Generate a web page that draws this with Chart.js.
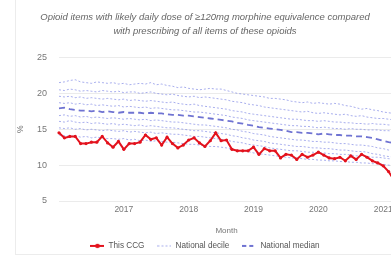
<!DOCTYPE html>
<html>
<head>
<meta charset="utf-8">
<script src="https://cdn.jsdelivr.net/npm/chart.js@4"></script>
<style>
  html, body { margin: 0; padding: 0; background: #fff; overflow: hidden; }
  .card { position: absolute; left: 15px; top: -2px; width: 420px; height: 257px; border: 1px solid #ececec; box-sizing: border-box; }
  #chart { position: absolute; left: 16px; top: 0; }
</style>
</head>
<body>
<div class="card"></div>
<canvas id="chart" width="382" height="260"></canvas>
<script>
// months Jan 2016 - Mar 2021
const months = [
  '2016-01','2016-02','2016-03','2016-04','2016-05','2016-06','2016-07','2016-08','2016-09','2016-10','2016-11','2016-12',
  '2017-01','2017-02','2017-03','2017-04','2017-05','2017-06','2017-07','2017-08','2017-09','2017-10','2017-11','2017-12',
  '2018-01','2018-02','2018-03','2018-04','2018-05','2018-06','2018-07','2018-08','2018-09','2018-10','2018-11','2018-12',
  '2019-01','2019-02','2019-03','2019-04','2019-05','2019-06','2019-07','2019-08','2019-09','2019-10','2019-11','2019-12',
  '2020-01','2020-02','2020-03','2020-04','2020-05','2020-06','2020-07','2020-08','2020-09','2020-10','2020-11','2020-12',
  '2021-01','2021-02','2021-03'
];
const yTicks = [5, 10, 15, 20, 25];

const thisCcg = [
  14.5, 13.8, 14.0, 14.0, 13.0, 13.0, 13.2, 13.2, 14.0, 13.1,
  12.5, 13.3, 12.2, 13.0, 13.0, 13.2, 14.2, 13.6, 13.8, 12.8,
  13.9, 13.0, 12.4, 12.8, 13.5, 13.8, 13.1, 12.6, 13.4, 14.5,
  13.4, 13.5, 12.2, 12.0, 12.0, 12.0, 12.5, 11.5, 12.3, 12.0,
  12.0, 11.0, 11.5, 11.4, 10.8, 11.5, 11.1, 11.4, 11.8, 11.4,
  11.0, 10.9, 11.1, 10.6, 11.3, 10.8, 11.5, 11.1, 10.6, 10.3,
  9.9, 9.1, 7.9
];
const median = [
  17.9, 18.0, 17.8, 17.7, 17.6, 17.6, 17.5, 17.6, 17.4, 17.5,
  17.4, 17.3, 17.4, 17.3, 17.3, 17.3, 17.2, 17.3, 17.2, 17.2,
  17.1, 17.0, 17.0, 16.9, 16.9, 16.8, 16.7, 16.6, 16.5, 16.4,
  16.3, 16.2, 16.1, 15.9, 15.8, 15.6, 15.5, 15.3, 15.2, 15.1,
  15.0, 14.9, 14.8, 14.6, 14.6, 14.5, 14.5, 14.4, 14.3, 14.4,
  14.3, 14.2, 14.2, 14.1, 14.1, 14.0, 14.0, 13.9, 13.8, 13.6,
  13.4, 13.2, 13.1
];
const p90 = [
  21.5, 21.6, 21.8, 21.9, 21.6, 21.5, 21.4, 21.6, 21.5, 21.4,
  21.5, 21.3, 21.4, 21.2, 21.3, 21.4, 21.3, 21.5, 21.2, 21.3,
  21.1, 21.0, 20.8, 20.9, 20.7, 20.6, 20.5, 20.6, 20.7, 20.6,
  20.6, 20.4, 20.2, 20.0, 19.9, 19.8, 19.7, 19.6, 19.5, 19.3,
  19.3, 19.2, 19.1, 18.9, 18.8, 18.7, 18.8, 18.6, 18.7, 18.6,
  18.5, 18.6, 18.5, 18.3, 18.2, 18.0, 17.8, 17.9, 17.7, 17.6,
  17.4, 17.3, 17.2
];
const p80 = [
  20.5, 20.4, 20.6, 20.5, 20.3, 20.4, 20.3, 20.2, 20.4, 20.3,
  20.2, 20.3, 20.1, 20.2, 20.2, 20.0, 20.1, 20.2, 20.0, 19.9,
  19.8, 19.9, 19.7, 19.6, 19.5, 19.6, 19.4, 19.5, 19.4, 19.3,
  19.2, 19.1, 18.9, 18.8, 18.7, 18.5, 18.4, 18.3, 18.1, 18.0,
  17.9, 17.8, 17.7, 17.6, 17.5, 17.4, 17.5, 17.3, 17.2, 17.3,
  17.2, 17.1, 17.0, 17.1, 16.9, 16.8, 16.9, 16.7, 16.6, 16.5,
  16.5, 16.4, 16.3
];
const p70 = [
  19.6, 19.5, 19.6, 19.4, 19.5, 19.3, 19.4, 19.3, 19.2, 19.3,
  19.2, 19.1, 19.2, 19.0, 19.1, 19.0, 18.9, 19.0, 18.9, 18.8,
  18.7, 18.8, 18.6, 18.5, 18.4, 18.5, 18.3, 18.2, 18.1, 18.0,
  17.9, 17.8, 17.6, 17.5, 17.4, 17.2, 17.1, 17.0, 16.9, 16.8,
  16.7, 16.6, 16.5, 16.4, 16.4, 16.3, 16.2, 16.2, 16.1, 16.2,
  16.1, 16.0, 16.0, 15.9, 15.9, 15.8, 15.8, 15.7, 15.8, 15.7,
  15.7, 15.6, 15.6
];
const p60 = [
  18.7, 18.6, 18.7, 18.5, 18.6, 18.4, 18.5, 18.3, 18.4, 18.3,
  18.2, 18.3, 18.1, 18.2, 18.1, 18.0, 18.1, 17.9, 18.0, 17.9,
  17.8, 17.7, 17.7, 17.6, 17.5, 17.4, 17.4, 17.3, 17.2, 17.1,
  17.0, 16.9, 16.7, 16.6, 16.5, 16.3, 16.2, 16.1, 16.0, 15.9,
  15.8, 15.7, 15.6, 15.5, 15.5, 15.4, 15.4, 15.3, 15.2, 15.3,
  15.2, 15.1, 15.1, 15.0, 15.1, 15.0, 15.0, 14.9, 14.9, 14.9,
  14.8, 14.8, 14.7
];
const p40 = [
  16.9, 17.0, 16.8, 16.9, 16.7, 16.8, 16.6, 16.7, 16.6, 16.5,
  16.6, 16.5, 16.4, 16.5, 16.4, 16.3, 16.4, 16.2, 16.3, 16.2,
  16.1, 16.0, 16.0, 15.9, 15.8, 15.7, 15.6, 15.6, 15.5, 15.4,
  15.3, 15.2, 15.0, 14.9, 14.7, 14.6, 14.4, 14.3, 14.2, 14.0,
  13.9, 13.8, 13.7, 13.6, 13.5, 13.5, 13.4, 13.3, 13.3, 13.2,
  13.2, 13.1, 13.0, 13.0, 12.9, 12.8, 12.8, 12.7, 12.6, 12.4,
  12.3, 12.1, 12.0
];
const p30 = [
  16.1, 16.0, 16.2, 16.0, 15.9, 16.0, 15.8, 15.9, 15.8, 15.7,
  15.8, 15.6, 15.7, 15.6, 15.5, 15.6, 15.4, 15.5, 15.4, 15.3,
  15.2, 15.2, 15.1, 15.0, 14.9, 14.8, 14.8, 14.7, 14.6, 14.5,
  14.4, 14.3, 14.1, 14.0, 13.8, 13.7, 13.5, 13.4, 13.3, 13.1,
  13.0, 12.9, 12.8, 12.7, 12.6, 12.6, 12.5, 12.4, 12.4, 12.3,
  12.3, 12.2, 12.1, 12.1, 12.0, 11.9, 11.9, 11.8, 11.6, 11.5,
  11.3, 11.2, 11.1
];
const p20 = [
  15.2, 15.1, 15.2, 15.0, 15.1, 14.9, 15.0, 14.9, 14.8, 14.9,
  14.8, 14.7, 14.8, 14.6, 14.7, 14.6, 14.5, 14.6, 14.4, 14.5,
  14.4, 14.3, 14.3, 14.2, 14.1, 14.0, 14.0, 13.9, 13.8, 13.7,
  13.6, 13.5, 13.3, 13.2, 13.1, 12.9, 12.8, 12.7, 12.6, 12.4,
  12.3, 12.2, 12.1, 12.0, 12.0, 11.9, 11.8, 11.8, 11.7, 11.7,
  11.6, 11.6, 11.5, 11.5, 11.4, 11.3, 11.3, 11.2, 11.1, 11.1,
  11.0, 10.9, 10.8
];
const p10 = [
  14.2, 14.1, 14.0, 14.1, 13.9, 14.0, 13.8, 13.9, 13.8, 13.7,
  13.7, 13.6, 13.7, 13.5, 13.6, 13.4, 13.5, 13.3, 13.4, 13.3,
  13.2, 13.2, 13.1, 13.0, 12.9, 12.9, 12.8, 12.7, 12.6, 12.6,
  12.5, 12.4, 12.2, 12.1, 12.0, 11.9, 11.7, 11.6, 11.5, 11.4,
  11.3, 11.2, 11.1, 11.0, 11.0, 10.9, 10.8, 10.8, 10.7, 10.7,
  10.6, 10.6, 10.5, 10.5, 10.4, 10.4, 10.3, 10.3, 10.2, 10.2,
  10.1, 10.0, 9.9
];

const ccgColor = '#e3121d';
const medianColor = '#6f73d2';
const decileColor = 'rgba(110, 120, 225, 0.6)';

const decile = (label, data) => ({
  label: label,
  data: data,
  borderColor: decileColor,
  backgroundColor: decileColor,
  borderWidth: 1,
  borderDash: [2, 2],
  pointRadius: 0,
  tension: 0,
  fill: false,
});

// little line samples for the legend
function legendSample(color, width, dash, dot) {
  const c = document.createElement('canvas');
  c.width = 14;
  c.height = 8;
  const ctx = c.getContext('2d');
  ctx.strokeStyle = color;
  ctx.lineWidth = width;
  ctx.setLineDash(dash);
  ctx.beginPath();
  ctx.moveTo(0, 4);
  ctx.lineTo(14, 4);
  ctx.stroke();
  if (dot) {
    ctx.fillStyle = color;
    ctx.beginPath();
    ctx.arc(7, 4, 2.3, 0, Math.PI * 2);
    ctx.fill();
  }
  return c;
}
const samples = {
  'This CCG': legendSample(ccgColor, 2, [], true),
  'National decile': legendSample(decileColor, 1, [2, 2], false),
  'National median': legendSample(medianColor, 1.8, [4, 3], false),
};

const canvas = document.getElementById('chart');
const config = {
  type: 'line',
  data: {
    labels: months,
    datasets: [
      {
        label: 'This CCG',
        data: thisCcg,
        borderColor: ccgColor,
        backgroundColor: ccgColor,
        borderWidth: 2,
        pointRadius: 1.6,
        pointBorderWidth: 0,
        tension: 0,
        fill: false,
      },
      decile('National decile', p10),
      {
        label: 'National median',
        data: median,
        borderColor: medianColor,
        backgroundColor: medianColor,
        borderWidth: 1.8,
        borderDash: [6, 4],
        pointRadius: 0,
        tension: 0,
        fill: false,
      },
      decile('', p20),
      decile('', p30),
      decile('', p40),
      decile('', p60),
      decile('', p70),
      decile('', p80),
      decile('', p90),
    ],
  },
  options: {
    responsive: false,
    animation: false,
    devicePixelRatio: 1,
    layout: { padding: { left: 0, right: 4, top: 0, bottom: 0 } },
    plugins: {
      title: {
        display: true,
        text: ['Opioid items with likely daily dose of \u2265120mg morphine equivalence compared',
               'with prescribing of all items of these opioids'],
        color: '#666',
        font: { family: 'Liberation Sans', size: 9.5, style: 'italic', weight: 'normal', lineHeight: 1.5 },
        padding: { top: 10, bottom: 19 },
      },
      legend: {
        position: 'bottom',
        labels: {
          filter: (item) => item.text !== '',
          usePointStyle: true,
          pointStyleWidth: 14,
          boxHeight: 8,
          padding: 13,
          color: '#555',
          font: { family: 'Liberation Sans', size: 8.2 },
          generateLabels: (chart) => {
            const items = Chart.defaults.plugins.legend.labels.generateLabels(chart);
            items.forEach((it) => { it.pointStyle = samples[it.text]; });
            return items;
          },
        },
      },
      tooltip: { enabled: false },
    },
    scales: {
      x: {
        grid: { display: false, drawTicks: false },
        border: { display: false },
        ticks: {
          autoSkip: false,
          maxRotation: 0,
          padding: 4,
          color: '#777',
          font: { family: 'Liberation Sans', size: 8.5 },
          callback: function (value) {
            const lab = this.getLabelForValue(value);
            return value > 0 && lab.endsWith('-01') ? lab.slice(0, 4) : '';
          },
        },
        title: {
          display: true,
          text: 'Month',
          color: '#777',
          font: { family: 'Liberation Sans', size: 8 },
          padding: { top: 7, bottom: -7 },
        },
      },
      y: {
        min: 5,
        max: 25,
        afterBuildTicks: (scale) => { scale.ticks = yTicks.map((v) => ({ value: v })); },
        afterFit: (scale) => { scale.width = 43; },
        grid: { color: '#ebebeb', drawTicks: false },
        border: { display: false },
        ticks: {
          padding: 12,
          color: '#777',
          font: { family: 'Liberation Sans', size: 9 },
        },
        title: {
          display: true,
          text: '%',
          color: '#777',
          font: { family: 'Liberation Sans', size: 8.5 },
          padding: { top: 0, bottom: 0 },
        },
      },
    },
  },
};

const chart = new Chart(canvas, config);
</script>
</body>
</html>
